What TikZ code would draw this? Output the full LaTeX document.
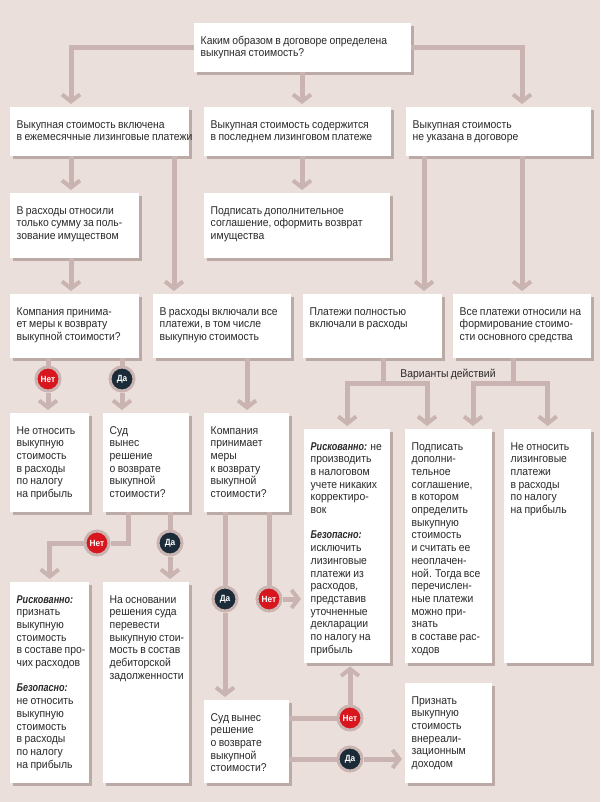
\documentclass[tikz,border=0pt]{standalone}
\usepackage{fontspec}
\setmainfont[FakeStretch=0.92,WordSpace=0.8]{Liberation Sans}
\newfontfamily\riskfont[FakeStretch=0.8]{Liberation Sans}
\usetikzlibrary{arrows.meta,shadows}
\definecolor{bgc}{HTML}{EBDFDC}
\definecolor{linkc}{HTML}{C9B4B1}
\definecolor{shadowc}{HTML}{BCAAA7}
\definecolor{textc}{HTML}{2B2A29}
\definecolor{nored}{HTML}{D7161E}
\definecolor{yesdark}{HTML}{1B2B38}
\newcommand{\boxtext}[3]{\parbox[t][#2pt][t]{#1pt}{\raggedright\leftskip=6.5pt\rightskip=-14pt plus 1fil\parindent=0pt\vskip 12pt\relax\strut #3}}
\newcommand{\riskword}[1]{{\riskfont\bfseries\itshape #1}}

\begin{document}
\begin{tikzpicture}[x=1pt,y=-1pt,
    box/.style={fill=white, anchor=north west, inner sep=0pt, text=textc,
      font=\fontsize{11.3}{12.7}\selectfont,
      drop shadow={shadow xshift=2.5pt, shadow yshift=-2.5pt, fill=shadowc, opacity=1}},
    link/.style={line width=5pt, draw=linkc},
    arr/.style={link, -{Straight Barb[length=7pt, width=18pt, line width=4pt]}, shorten >=3pt},
    answer/.style={circle, draw=linkc, line width=3pt, minimum size=24pt, inner sep=0pt,
      text=white, font=\bfseries\fontsize{9}{10}\selectfont},
    no/.style={answer, fill=nored},
    yes/.style={answer, fill=yesdark}]

  \fill [bgc] (0,0) rectangle (600,802);
  \useasboundingbox (0,0) rectangle (600,802);

  % question
  \node [box, name=q0] at (194,23) {\boxtext{217}{49}{Каким образом в договоре определена\\выкупная стоимость?}};

  % row 2
  \node [box, name=a1] at (10,107) {\boxtext{179}{49}{Выкупная стоимость включена\\в ежемесячные лизинговые платежи}};
  \node [box, name=a2] at (204,107) {\boxtext{187}{49}{Выкупная стоимость содержится\\в последнем лизинговом платеже}};
  \node [box, name=a3] at (406,107) {\boxtext{185}{49}{Выкупная стоимость\\не указана в договоре}};

  % row 3
  \node [box, name=b1] at (10,193) {\boxtext{129}{65}{В расходы относили\\только сумму за поль-\\зование имуществом}};
  \node [box, name=b2] at (204,193) {\boxtext{186}{65}{Подписать дополнительное\\соглашение, оформить возврат\\имущества}};

  % row 4
  \node [box, name=c1] at (10,294) {\boxtext{129}{64}{Компания принима-\\ет меры к возврату\\выкупной стоимости?}};
  \node [box, name=c2] at (153,294) {\boxtext{138}{64}{В расходы включали все\\платежи, в том числе\\выкупную стоимость}};
  \node [box, name=c3] at (303,294) {\boxtext{139}{64}{Платежи полностью\\включали в расходы}};
  \node [box, name=c4] at (453,294) {\boxtext{138}{64}{Все платежи относили на\\формирование стоимо-\\сти основного средства}};

  \node [name=opts, text=textc, font=\fontsize{11.3}{12.7}\selectfont] at (448,374) {Варианты действий};

  % row 5
  \node [box, name=d1] at (10,413) {\boxtext{79}{99}{Не относить\\выкупную\\стоимость\\в расходы\\по налогу\\на прибыль}};
  \node [box, name=d2] at (103,413) {\boxtext{86}{99}{Суд\\вынес\\решение\\о возврате\\выкупной\\стоимости?}};
  \node [box, name=d3] at (204,413) {\boxtext{85}{99}{Компания\\принимает\\меры\\к возврату\\выкупной\\стоимости?}};
  \node [box, name=d4] at (304,429) {\boxtext{86}{234}{\riskword{Рискованно:} не\\производить\\в налоговом\\учете никаких\\корректиро-\\вок\\[12.7pt]\riskword{Безопасно:}\\исключить\\лизинговые\\платежи из\\расходов,\\представив\\уточненные\\декларации\\по налогу на\\прибыль}};
  \node [box, name=d5] at (405,429) {\boxtext{87}{234}{Подписать\\дополни-\\тельное\\соглашение,\\в котором\\определить\\выкупную\\стоимость\\и считать ее\\неоплачен-\\ной. Тогда все\\перечислен-\\ные платежи\\можно при-\\знать\\в составе рас-\\ходов}};
  \node [box, name=d6] at (504,429) {\boxtext{87}{234}{Не относить\\лизинговые\\платежи\\в расходы\\по налогу\\на прибыль}};

  % row 6
  \node [box, name=e1] at (10,582) {\boxtext{79}{201}{\riskword{Рискованно:}\\признать\\выкупную\\стоимость\\в составе про-\\чих расходов\\[12.7pt]\riskword{Безопасно:}\\не относить\\выкупную\\стоимость\\в расходы\\по налогу\\на прибыль}};
  \node [box, name=e2] at (103,582) {\boxtext{86}{201}{На основании\\решения суда\\перевести\\выкупную стои-\\мость в состав\\дебиторской\\задолженности}};
  \node [box, name=e3] at (204,700) {\boxtext{85}{83}{Суд вынес\\решение\\о возврате\\выкупной\\стоимости?}};
  \node [box, name=e4] at (405,683) {\boxtext{87}{100}{Признать\\выкупную\\стоимость\\внереали-\\зационным\\доходом}};

  % answers
  \node [no, name=n1] at (48,379) {Нет};
  \node [yes, name=y1] at (122,379) {Да};
  \node [no, name=n2] at (97,543) {Нет};
  \node [yes, name=y2] at (170,543) {Да};
  \node [yes, name=y3] at (225,599) {Да};
  \node [no, name=n3] at (269,599) {Нет};
  \node [no, name=n4] at (350,718) {Нет};
  \node [yes, name=y4] at (350,759) {Да};

  \coordinate (v1) at (383,383);
  \coordinate (v2) at (513,383);

  % connectors
  \draw [arr] (q0.west) -| ([xshift=61pt]a1.north west);
  \draw [arr] (q0.east) -| ([xshift=116pt]a3.north west);
  \draw [arr] ([xshift=108pt]q0.south west) -- ([xshift=98pt]a2.north west);

  \draw [arr] ([xshift=61pt]a1.south west) -- ([xshift=61pt]b1.north west);
  \draw [arr] ([xshift=164pt]a1.south west) -- ([xshift=21pt]c2.north west);
  \draw [arr] ([xshift=98pt]a2.south west) -- ([xshift=98pt]b2.north west);
  \draw [arr] ([xshift=18pt]a3.south west) -- ([xshift=121pt]c3.north west);
  \draw [arr] ([xshift=116pt]a3.south west) -- ([xshift=69pt]c4.north west);

  \draw [arr] ([xshift=61pt]b1.south west) -- ([xshift=61pt]c1.north west);

  \draw [link] (c1.south -| n1) -- (n1);
  \draw [arr] (n1) -- (n1 |- d1.north);
  \draw [link] (c1.south -| y1) -- (y1);
  \draw [arr] (y1) -- (y1 |- d2.north);
  \draw [arr] ([xshift=94pt]c2.south west) -- ([xshift=43pt]d3.north west);

  \draw [link] ([xshift=80pt]c3.south west) -- (v1);
  \draw [arr] (v1) -| (d4.north);
  \draw [arr] (v1) -| ([xshift=22pt]d5.north west);
  \draw [link] ([xshift=60pt]c4.south west) -- (v2);
  \draw [arr] (v2) -| ([xshift=68pt]d5.north west);
  \draw [arr] (v2) -| (d6.north);

  \draw [link] ([xshift=25pt]d2.south west) |- (n2);
  \draw [arr] (n2) -| (e1.north);
  \draw [link] (d2.south -| y2) -- (y2);
  \draw [arr] (y2) -- (y2 |- e2.north);

  \draw [link] (d3.south -| y3) -- (y3);
  \draw [arr] (y3) -- (y3 |- e3.north);
  \draw [link] (d3.south -| n3) -- (n3);
  \draw [arr] (n3) -- (n3 -| d4.west);

  \draw [link] (e3.east |- n4) -- (n4);
  \draw [arr] (n4) -- (n4 |- d4.south);
  \draw [link] (e3.east |- y4) -- (y4);
  \draw [arr] (y4) -- (y4 -| e4.west);

\end{tikzpicture}
\end{document}
